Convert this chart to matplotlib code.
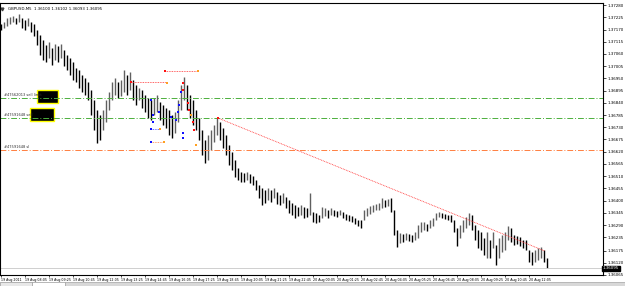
import matplotlib
matplotlib.use("Agg")
import matplotlib.pyplot as plt
from matplotlib.patches import Rectangle
import numpy as np

# GBPUSD M5 bars (one drawn bar per 10 minutes), high / low
highs = [1.37195, 1.37204, 1.37222, 1.37227, 1.37231, 1.37222, 1.37240, 1.37222, 1.37213, 1.37222,
         1.37204, 1.37195, 1.37168, 1.37146, 1.37123, 1.37101, 1.37114, 1.37087, 1.37105, 1.37096,
         1.37105, 1.37078, 1.37056, 1.37042, 1.37024, 1.36997, 1.36988, 1.36966, 1.36952, 1.36934,
         1.36898, 1.36853, 1.36808, 1.36786, 1.36808, 1.36853, 1.36889, 1.36934, 1.36952, 1.36934,
         1.36943, 1.36988, 1.36966, 1.36979, 1.36943, 1.36921, 1.36907, 1.36898, 1.36876, 1.36862,
         1.36853, 1.36862, 1.36876, 1.36844, 1.36831, 1.36817, 1.36808, 1.36786, 1.36799, 1.36853,
         1.36921, 1.36957, 1.36921, 1.36876, 1.36853, 1.36808, 1.36772, 1.36718, 1.36673, 1.36696,
         1.36718, 1.36741, 1.36772, 1.36754, 1.36727, 1.36696, 1.36651, 1.36619, 1.36583, 1.36547,
         1.36529, 1.36525, 1.36529, 1.36520, 1.36511, 1.36493, 1.36471, 1.36457, 1.36448, 1.36457,
         1.36448, 1.36457, 1.36439, 1.36426, 1.36435, 1.36417, 1.36403, 1.36390, 1.36381, 1.36372,
         1.36381, 1.36372, 1.36367, 1.36435, 1.36349, 1.36345, 1.36336, 1.36372, 1.36367, 1.36358,
         1.36367, 1.36358, 1.36354, 1.36358, 1.36349, 1.36340, 1.36336, 1.36331, 1.36322, 1.36313,
         1.36313, 1.36358, 1.36367, 1.36376, 1.36381, 1.36385, 1.36390, 1.36412, 1.36403, 1.36408,
         1.36412, 1.36358, 1.36268, 1.36255, 1.36250, 1.36255, 1.36250, 1.36246, 1.36259, 1.36291,
         1.36304, 1.36304, 1.36295, 1.36313, 1.36322, 1.36345, 1.36349, 1.36345, 1.36340, 1.36336,
         1.36336, 1.36313, 1.36277, 1.36291, 1.36313, 1.36327, 1.36345, 1.36336, 1.36291, 1.36268,
         1.36259, 1.36232, 1.36259, 1.36223, 1.36259, 1.36201, 1.36232, 1.36246, 1.36259, 1.36286,
         1.36277, 1.36246, 1.36241, 1.36237, 1.36223, 1.36223, 1.36178, 1.36169, 1.36178, 1.36187,
         1.36192, 1.36178, 1.36142]
lows = [1.37168, 1.37177, 1.37186, 1.37195, 1.37204, 1.37195, 1.37204, 1.37177, 1.37168, 1.37186,
        1.37159, 1.37141, 1.37101, 1.37056, 1.37033, 1.37024, 1.37042, 1.37011, 1.37033, 1.37024,
        1.37042, 1.37006, 1.36988, 1.36966, 1.36943, 1.36934, 1.36907, 1.36889, 1.36876, 1.36853,
        1.36786, 1.36718, 1.36660, 1.36673, 1.36718, 1.36754, 1.36808, 1.36853, 1.36876, 1.36862,
        1.36871, 1.36889, 1.36876, 1.36898, 1.36853, 1.36831, 1.36853, 1.36817, 1.36799, 1.36772,
        1.36763, 1.36786, 1.36799, 1.36763, 1.36741, 1.36727, 1.36696, 1.36682, 1.36705, 1.36754,
        1.36808, 1.36853, 1.36808, 1.36772, 1.36741, 1.36718, 1.36673, 1.36606, 1.36570, 1.36583,
        1.36628, 1.36664, 1.36696, 1.36673, 1.36637, 1.36606, 1.36561, 1.36538, 1.36506, 1.36493,
        1.36484, 1.36484, 1.36493, 1.36480, 1.36471, 1.36448, 1.36412, 1.36381, 1.36390, 1.36403,
        1.36394, 1.36412, 1.36385, 1.36381, 1.36390, 1.36367, 1.36345, 1.36336, 1.36322, 1.36331,
        1.36336, 1.36322, 1.36327, 1.36336, 1.36304, 1.36300, 1.36304, 1.36322, 1.36331, 1.36322,
        1.36336, 1.36331, 1.36327, 1.36336, 1.36322, 1.36313, 1.36309, 1.36304, 1.36295, 1.36286,
        1.36277, 1.36313, 1.36331, 1.36340, 1.36349, 1.36358, 1.36358, 1.36367, 1.36372, 1.36376,
        1.36349, 1.36246, 1.36192, 1.36210, 1.36214, 1.36223, 1.36219, 1.36214, 1.36223, 1.36232,
        1.36259, 1.36268, 1.36264, 1.36277, 1.36286, 1.36313, 1.36327, 1.36322, 1.36318, 1.36313,
        1.36304, 1.36259, 1.36196, 1.36232, 1.36259, 1.36277, 1.36291, 1.36268, 1.36223, 1.36187,
        1.36178, 1.36156, 1.36142, 1.36142, 1.36187, 1.36111, 1.36142, 1.36169, 1.36178, 1.36223,
        1.36214, 1.36201, 1.36205, 1.36196, 1.36187, 1.36178, 1.36124, 1.36111, 1.36124, 1.36133,
        1.36142, 1.36124, 1.36097]

price_ticks = [1.37280, 1.37225, 1.37170, 1.37115, 1.37060, 1.37005, 1.36950, 1.36895, 1.36840,
               1.36785, 1.36730, 1.36675, 1.36620, 1.36565, 1.36510, 1.36455, 1.36400, 1.36345,
               1.36290, 1.36235, 1.36175, 1.36120, 1.36065]
time_labels = ["19 Aug 2011", "19 Aug 08:05", "19 Aug 09:25", "19 Aug 10:45", "19 Aug 12:05",
               "19 Aug 13:25", "19 Aug 14:45", "19 Aug 16:05", "19 Aug 17:25", "19 Aug 18:45",
               "19 Aug 20:05", "19 Aug 21:25", "19 Aug 22:45", "20 Aug 00:05", "20 Aug 01:25",
               "20 Aug 02:45", "20 Aug 04:05", "20 Aug 05:25", "20 Aug 06:45", "20 Aug 08:05",
               "20 Aug 09:25", "20 Aug 10:45", "20 Aug 12:05"]

# order levels
sell_limit = 1.36862
sell_entry = 1.36772
stop_loss = 1.36628
bid = 1.36095
trend_x = [72.3, 181.3]
trend_y = [1.36772, 1.36173]

# arrows / marks of the expert advisor
blue_x = [50, 52.7, 50.7, 50.7, 56.7, 58.3, 59, 59.3, 60, 50, 50, 60.7, 60.7]
blue_y = [1.36853, 1.36799, 1.36786, 1.36754, 1.36777, 1.36763, 1.36799, 1.36831, 1.36889,
          1.36723, 1.36664, 1.36705, 1.36682]
red_x = [60.7, 60.7, 62.3, 62.7, 64, 64.3, 72.3, 43.3, 54.7]
red_y = [1.36930, 1.36898, 1.36840, 1.36808, 1.36754, 1.36718, 1.36772, 1.36934, 1.36984]
orange_x = [65.7, 55.3, 53, 54.3, 63.3, 65]
orange_y = [1.36984, 1.36930, 1.36723, 1.36664, 1.36786, 1.36651]

fig = plt.figure(figsize=(6.25, 2.86), dpi=100)
ax = fig.add_axes([0.0, 1 - 275 / 286, 603 / 625, 272 / 286])

idx = np.arange(len(highs))
mids = (np.array(highs) + np.array(lows)) / 2
cols = ['#000000' if i == 0 or mids[i] <= mids[i - 1] else '#606060' for i in idx]
ax.vlines(idx, lows, highs, colors=cols, lw=1.0)

dashdot = (0, (6, 2, 1, 2))
ax.axhline(sell_limit, color='#4caf3c', lw=0.7, ls=dashdot)
ax.axhline(sell_entry, color='#4caf3c', lw=0.7, ls=dashdot)
ax.axhline(stop_loss, color='#ff7f40', lw=0.7, ls=dashdot)
ax.axhline(bid, color='#c8c8c8', lw=0.6)
ax.plot(trend_x, trend_y, color='#ff3030', lw=0.6, ls=(0, (1, 1)))

# short order lines
ax.plot([54.7, 65.7], [1.36984, 1.36984], color='#ff3030', lw=0.6, ls=(0, (1, 1)))
ax.plot([43.3, 55.3], [1.36934, 1.36934], color='#ff3030', lw=0.6, ls=(0, (1, 1)))
ax.plot([50, 54.3], [1.36664, 1.36664], color='#ff7f40', lw=0.6, ls=(0, (1, 1)))
ax.plot([50, 53], [1.36723, 1.36723], color='#4040ff', lw=0.6, ls=(0, (1, 1)))

ax.scatter(blue_x, blue_y, s=3, c='#1010ff', marker='s', lw=0, zorder=3)
ax.scatter(red_x, red_y, s=3, c='#ff1010', marker='s', lw=0, zorder=3)
ax.scatter(orange_x, orange_y, s=3, c='#ffa020', marker='s', lw=0, zorder=3)

# order labels on the left
ax.text(1, 1.36876, "#47562013 sell limit", fontsize=2.6, va='center', color='#303030')
ax.text(1, 1.36786, "#47591648 sell", fontsize=2.6, va='center', color='#303030')
ax.text(1, 1.36642, "#47591648 sl", fontsize=2.6, va='center', color='#303030')
ax.add_patch(Rectangle((12, 1.36840), 7, 0.00058, facecolor='black', edgecolor='#ffff00', lw=1))
ax.add_patch(Rectangle((9.7, 1.36758), 8, 0.00059, facecolor='black', edgecolor='#ffff00', lw=1))

ax.set_xlim(-0.3, 200.7)
ax.set_ylim(1.360655, 1.372895)

ax.yaxis.tick_right()
ax.set_yticks(price_ticks)
ax.set_yticklabels(["%.5f" % p for p in price_ticks])
ax.tick_params(axis='y', labelsize=2.9, length=2, width=0.5, pad=1.2)
ax.set_xticks(np.arange(len(time_labels)) * 8)
ax.set_xticklabels(time_labels, ha='left')
ax.tick_params(axis='x', labelsize=2.3, length=1.5, width=0.5, pad=0.6, direction='out')
for s in ax.spines.values():
    s.set_linewidth(0.8)

ax.text(1.0, bid, "1.36095", transform=ax.get_yaxis_transform(), fontsize=2.9,
        color='white', va='center', ha='left',
        bbox=dict(boxstyle='square,pad=0.15', fc='black', ec='black'))
ax.text(0.013, 0.985, "GBPUSD,M5  1.36100 1.36102 1.36093 1.36095", transform=ax.transAxes,
        fontsize=2.8, va='top', ha='left')
ax.plot([0.004], [0.978], marker='v', ms=2, color='#404040', transform=ax.transAxes, clip_on=False)

# tab strip at the bottom
h = 4 / 286
fig.add_artist(Rectangle((0, 0), 1, h, transform=fig.transFigure, fc='#d8d8d8', ec='none'))
fig.add_artist(Rectangle((0, 0), 32 / 625, h, transform=fig.transFigure, fc='#e8e8e8', ec='#909090', lw=0.4))
fig.add_artist(Rectangle((32 / 625, 0), 33 / 625, h, transform=fig.transFigure, fc='white', ec='#909090', lw=0.4))
fig.add_artist(Rectangle((65 / 625, 0), 560 / 625, h, transform=fig.transFigure, fc='#d8d8d8', ec='#a0a0a0', lw=0.4))

fig.savefig("out.png", dpi=100)
